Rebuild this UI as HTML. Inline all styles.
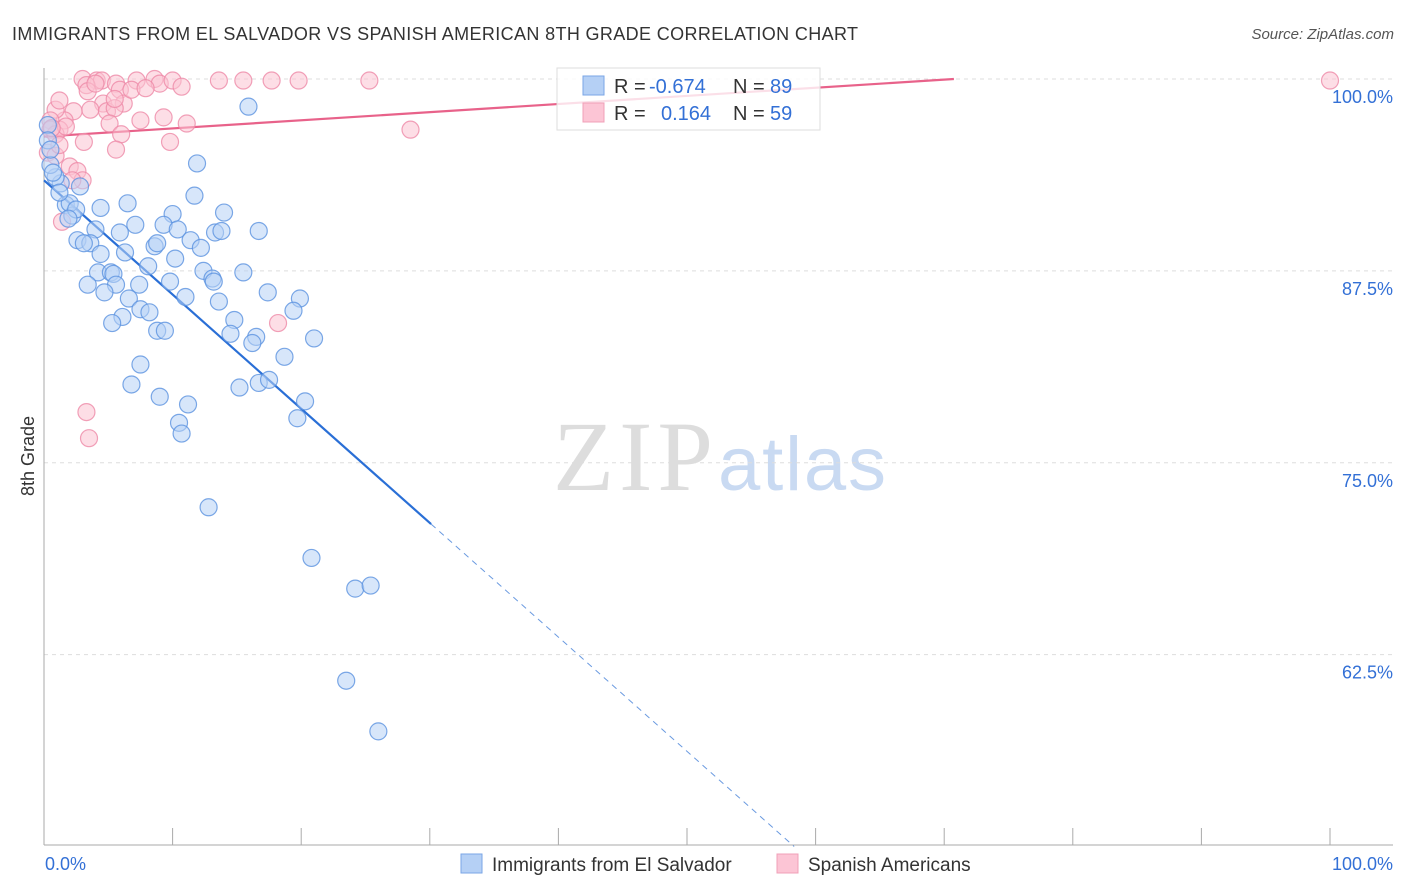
<!DOCTYPE html>
<html><head><meta charset="utf-8">
<style>
body{margin:0;background:#fff;font-family:"Liberation Sans",sans-serif;}
svg{display:block}
</style></head>
<body>
<svg id="chart" width="1406" height="892" viewBox="0 0 1406 892">
<text x="12" y="40" font-size="18" fill="#333" textLength="846">IMMIGRANTS FROM EL SALVADOR VS SPANISH AMERICAN 8TH GRADE CORRELATION CHART</text>
<text x="1394" y="39" font-size="15" fill="#555" font-style="italic" text-anchor="end">Source: ZipAtlas.com</text>
<text x="34" y="456" font-size="18" fill="#333" text-anchor="middle" transform="rotate(-90 34 456)">8th Grade</text>
<g>
<text x="553" y="490" font-size="100" fill="#ddd" font-family="Liberation Serif,serif" textLength="160">ZIP</text>
<text x="718" y="490" font-size="76" fill="#c9daf2" textLength="168">atlas</text>
</g>
<g id="grid"></g>
<g id="axes"></g>
<g id="lines"></g>
<g id="pts"></g>
<g>
<rect x="557" y="68" width="263" height="62" fill="#fff" fill-opacity="0.8" stroke="#ddd"/>
<rect x="583" y="76" width="21" height="19" fill="#b5d0f5" stroke="#7aa6e6"/>
<text x="614" y="93" font-size="20" fill="#333">R = </text>
<text x="649" y="93" font-size="20" fill="#3370d6">-0.674</text>
<text x="733" y="93" font-size="20" fill="#333">N = </text>
<text x="770" y="93" font-size="20" fill="#3370d6">89</text>
<rect x="583" y="103" width="21" height="19" fill="#fcc5d5" stroke="#f0a0b8"/>
<text x="614" y="120" font-size="20" fill="#333">R = </text>
<text x="661" y="120" font-size="20" fill="#3370d6">0.164</text>
<text x="733" y="120" font-size="20" fill="#333">N = </text>
<text x="770" y="120" font-size="20" fill="#3370d6">59</text>
</g>
<g>
<rect x="461" y="854" width="21" height="19" fill="#b5d0f5" stroke="#7aa6e6"/>
<text x="492" y="871" font-size="19" fill="#333">Immigrants from El Salvador</text>
<rect x="777" y="854" width="21" height="19" fill="#fcc5d5" stroke="#f0a0b8"/>
<text x="808" y="871" font-size="19" fill="#333">Spanish Americans</text>
</g>
</svg>
<script>
const yTicks=[100,87.5,75,62.5];
const yTickLabels=["100.0%","87.5%","75.0%","62.5%"];
const xTickLabels=["0.0%","100.0%"];
const blueX=[15.9,11.9,11.7,14.0,10.0,4.4,6.5,1.7,2.2,2.0,2.8,1.3,0.9,0.5,0.7,7.1,9.3,10.4,13.3,13.8,16.7,4.0,2.6,3.6,3.1,5.9,11.4,8.6,8.8,6.3,12.2,4.4,8.1,10.2,12.4,15.5,13.1,13.2,4.2,5.2,5.4,3.4,5.6,7.4,9.8,4.7,11.0,6.6,13.6,17.4,19.9,19.4,7.5,8.2,6.1,5.3,14.8,8.8,9.4,14.5,16.5,16.2,21.0,18.7,7.5,6.8,15.2,16.7,17.5,9.0,11.2,20.3,10.5,10.7,19.7,12.8,20.8,24.2,25.4,23.5,26.0,0.3,0.3,0.5,1.2,2.5,1.9];
const blueY=[98.2,94.5,92.4,91.3,91.2,91.6,91.9,91.8,91.1,91.9,93.0,93.2,93.6,94.4,93.9,90.5,90.5,90.2,90.0,90.1,90.1,90.2,89.5,89.3,89.3,90.0,89.5,89.1,89.3,88.7,89.0,88.6,87.8,88.3,87.5,87.4,87.0,86.8,87.4,87.4,87.3,86.6,86.6,86.6,86.8,86.1,85.8,85.7,85.5,86.1,85.7,84.9,85.0,84.8,84.5,84.1,84.3,83.6,83.6,83.4,83.2,82.8,83.1,81.9,81.4,80.1,79.9,80.2,80.4,79.3,78.8,79.0,77.6,76.9,77.9,72.1,68.8,66.8,67.0,60.8,57.5,97.0,96.0,95.4,92.6,91.5,90.9];
const pinkX=[3.0,4.1,4.5,3.3,7.2,8.6,9.0,10.0,10.7,13.6,15.5,17.7,19.8,25.3,100,5.6,5.9,3.4,4.6,6.2,6.8,3.6,2.3,1.6,0.9,1.2,0.5,0.5,0.9,1.7,4.9,5.5,5.1,6.0,3.1,5.6,7.5,11.1,9.3,9.8,28.5,0.3,2.0,2.6,3.0,2.2,1.4,0.9,18.2,3.3,3.5,5.5,1.2,4.0,7.9,1.2,0.6];
const pinkY=[100,99.9,99.9,99.6,99.9,100,99.7,99.9,99.5,99.9,99.9,99.9,99.9,99.9,99.9,99.7,99.3,99.2,98.4,98.4,99.3,98.0,97.9,97.3,98.0,96.7,97.3,96.7,96.4,96.9,97.9,98.1,97.1,96.4,95.9,95.4,97.3,97.1,97.5,95.9,96.7,95.2,94.3,94.0,93.4,93.4,90.7,95.0,84.1,78.3,76.6,98.7,98.6,99.7,99.4,95.7,96.8];
const blueTrend=[93.4,-0.744];
const pinkTrend=[96.25,0.053];
const NS="http://www.w3.org/2000/svg";
const X=v=>44+v*12.86, Y=v=>79+(100-v)*15.35;
function mk(tag,attrs,parent){const e=document.createElementNS(NS,tag);for(const k in attrs)e.setAttribute(k,attrs[k]);parent.appendChild(e);return e;}
const grid=document.getElementById('grid'),axes=document.getElementById('axes'),lines=document.getElementById('lines'),pts=document.getElementById('pts');
yTicks.forEach((t,i)=>{
 const l=mk('line',{x1:44,x2:1393,y1:Y(t),y2:Y(t),stroke:'#ddd','stroke-dasharray':'4 4'},grid);
 
 
 const tx=mk('text',{x:1393,y:Y(t)+24,'font-size':18,fill:'#3370d6','text-anchor':'end'},axes);
 tx.textContent=yTickLabels[i];
 
 
});
const ya=mk('line',{x1:44,x2:44,y1:68,y2:845,stroke:'#aaa'},axes);


const xa=mk('line',{x1:44,x2:1393,y1:845,y2:845,stroke:'#aaa'},axes);


for(let i=0;i<=10;i++){
 const t=mk('line',{x1:X(i*10),x2:X(i*10),y1:828,y2:845,stroke:'#aaa'},axes);
 
 
}
xTickLabels.forEach((s,i)=>{
 const tx=mk('text',{x:i?1393:45,y:870,'font-size':18,fill:'#3370d6','text-anchor':i?'end':'start'},axes);
 tx.textContent=s;
 
 
});
function dot(x,y,fill,stroke,name){
 const c=mk('circle',{cx:X(x),cy:Y(y),r:8.5,fill:fill,'fill-opacity':0.55,stroke:stroke,'stroke-opacity':0.8,'stroke-width':1.2},pts);
 
 
}
pinkX.forEach((x,i)=>dot(x,pinkY[i],'#fbc3d2','#ee8aa8','pink-point'));
blueX.forEach((x,i)=>dot(x,blueY[i],'#b7d1f5','#5b92e0','blue-point'));
const bEnd=30.1, bZero=(50-blueTrend[0])/blueTrend[1];
const bl=mk('line',{x1:X(0),y1:Y(blueTrend[0]),x2:X(bEnd),y2:Y(blueTrend[0]+blueTrend[1]*bEnd),stroke:'#2a6fd6','stroke-width':2.2},lines);


const bd=mk('line',{x1:X(bEnd),y1:Y(blueTrend[0]+blueTrend[1]*bEnd),x2:X(bZero),y2:Y(50),stroke:'#6a9ae0','stroke-width':1,'stroke-dasharray':'6 5'},lines);


const pEnd=Math.min(100,(100-pinkTrend[0])/pinkTrend[1]);
const pl=mk('line',{x1:X(0),y1:Y(pinkTrend[0]),x2:X(pEnd),y2:Y(pinkTrend[0]+pinkTrend[1]*pEnd),stroke:'#e8628a','stroke-width':2.2},lines);


</script>
</body></html>
